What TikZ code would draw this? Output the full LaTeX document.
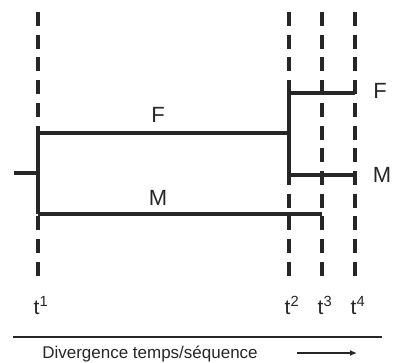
\documentclass[tikz,border=0pt]{standalone}
\usepackage{fontspec}
\setmainfont{Liberation Sans}
\usetikzlibrary{arrows.meta, positioning}

\begin{document}
\begin{tikzpicture}[x=1pt, y=-1pt,
    epoch/.style={draw=black!85, line width=3.6pt, dash pattern=on 14pt off 8.7pt},
    branch/.style={draw=black!85, line width=3.6pt},
    lineage/.style={font=\fontsize{22}{26}\selectfont, inner sep=0pt, text=black!85},
    tmark/.style={font=\fontsize{21}{24}\selectfont, inner sep=0pt, text=black!85, anchor=base},
    caption/.style={font=\fontsize{17}{20}\selectfont, inner sep=0pt, text=black!85}
]
    \useasboundingbox (0,0) rectangle (394,362);

    % time lines
    \foreach \n/\x in {1/38, 2/289, 3/322, 4/355} {
        \coordinate (top\n) at (\x,12);
        \coordinate (bot\n) at (\x,278);
        \draw[epoch] (top\n) -- (bot\n);
        \node[tmark] (t\n) at (\x+3,314) {t\textsuperscript{\n}};
    }

    % tree
    \coordinate (root) at (14,173);
    \coordinate (s1) at (38,173);
    \coordinate (f1) at (38,133);
    \coordinate (m1) at (38,214);
    \coordinate (f1end) at (289,133);
    \coordinate (m1end) at (322,214);
    \coordinate (f2) at (289,93);
    \coordinate (m2) at (289,175);
    \coordinate (f2end) at (355,93);
    \coordinate (m2end) at (355,175);

    \draw[branch] (root) -- (s1);
    \draw[branch] (f1) -- (m1);
    \draw[branch] (f1) -- (f1end);
    \draw[branch] (m1) -- (m1end);
    \draw[branch] (f2) -- (m2);
    \draw[branch] (f2) -- (f2end);
    \draw[branch] (m2) -- (m2end);

    \node[lineage] (F1) at (158,115) {F};
    \node[lineage] (M1) at (158,198) {M};
    \node[lineage] (F2) at (380,91) {F};
    \node[lineage] (M2) at (382,175) {M};

    % axis
    \coordinate (axl) at (13,337);
    \coordinate (axr) at (382,337);
    \draw[line width=1.3pt, black!85] (axl) -- (axr);
    \node[caption] (cap) at (150,354) {Divergence temps/séquence};
    \coordinate (arl) at (297,353);
    \coordinate (arr) at (357,353);
    \draw[line width=1.6pt, black!85, -{Latex[length=7pt, width=6pt]}] (arl) -- (arr);
\end{tikzpicture}
\end{document}
